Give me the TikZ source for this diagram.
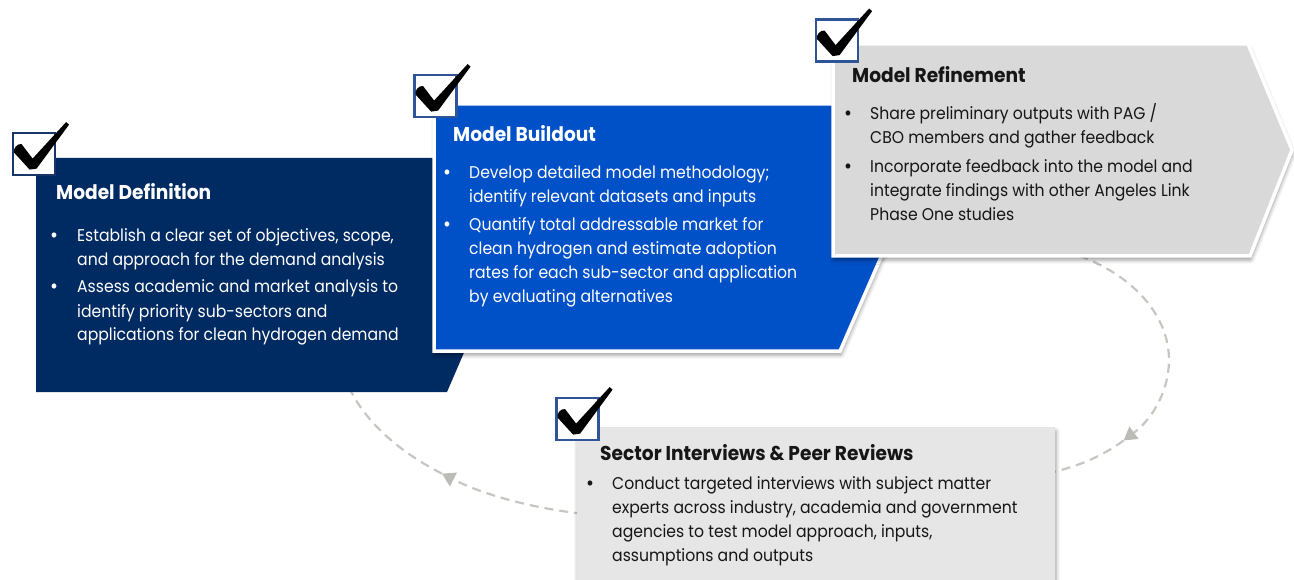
\documentclass[tikz,border=0pt]{standalone}
\usepackage{fontspec}
\setmainfont{Poppins}
\newfontfamily\bodyfont{Poppins}[FakeStretch=0.92]
\newfontfamily\headfont{Poppins}[FakeStretch=0.93]
\usetikzlibrary{arrows.meta,shadows.blur}

\definecolor{navybox}{HTML}{002A62}
\definecolor{bluebox}{HTML}{0050C8}
\definecolor{greybox}{HTML}{D9D9D9}
\definecolor{lightbox}{HTML}{E7E6E6}
\definecolor{navyframe}{HTML}{1A3668}
\definecolor{blueframe}{HTML}{2F5597}
\definecolor{cyclegrey}{HTML}{C6C6C2}
\definecolor{tipgrey}{HTML}{BCBCB7}
\definecolor{inkdark}{HTML}{161616}

\tikzset{
  cycleline/.style={draw=cyclegrey, line width=2.2pt, dash pattern=on 9pt off 6pt},
  cycletip/.style={-{Triangle[length=13pt,width=15pt,fill=tipgrey,color=tipgrey]}},
  chkbox/.style={draw=#1, line width=2.8pt, fill=white, rectangle, inner sep=0pt,
                 minimum width=42pt, minimum height=42pt},
  heading/.style={anchor=base west, inner sep=0pt, font=\headfont\bfseries\fontsize{20}{24}\selectfont},
  body/.style={anchor=base west, inner sep=0pt, font=\bodyfont\fontsize{17}{20}\selectfont},
  dot/.style={anchor=base, inner sep=0pt, font=\bodyfont\fontsize{21}{20}\selectfont},
  softshadow/.style={blur shadow={shadow xshift=1pt, shadow yshift=-4pt,
                     shadow blur radius=4pt, shadow opacity=40}},
}

% tick mark drawn from the top-left corner of a check box node
\newcommand\drawtick[1]{%
  \fill[black, shift={(#1.north west)}]
    (2.5,21) .. controls (1,17) and (6,11.5) .. (10,12.5) -- (21,27) -- (54.5,-9.5)
    -- (57.5,-7) -- (25,37) -- (18,38) -- cycle;}

\begin{document}
\begin{tikzpicture}[x=1pt, y=-1pt]
\useasboundingbox (0,0) rectangle (1294,580);
\clip (0,0) rectangle (1294,580);

% dashed cycle arcs behind the boxes
\coordinate (rc) at (1000,360);
\coordinate (lc) at (640,340);
\draw[cycleline, cycletip] (rc) ++(-62:169 and 118) coordinate (r0)
  arc[start angle=-62, end angle=43, x radius=169, y radius=118] coordinate (rtip);
\draw[cycleline] (rtip) arc[start angle=43, end angle=76, x radius=169, y radius=118] coordinate (r1);
\draw[cycleline, cycletip] (lc) ++(98:302 and 177) coordinate (l0)
  arc[start angle=98, end angle=131, x radius=302, y radius=177] coordinate (ltip);
\draw[cycleline] (ltip) arc[start angle=131, end angle=166, x radius=302, y radius=177] coordinate (l1);

% step 1: model definition
\path[fill=navybox] (36,158) -- (548,158) -- (447,392) -- (36,392) -- cycle;
% step 2: model buildout
\path[fill=bluebox, draw=white, line width=3.5pt, softshadow]
  (434,104) -- (948,104) -- (840,351) -- (434,351) -- cycle;
% step 3: model refinement
\path[fill=greybox, draw=white, line width=3.5pt, softshadow]
  (833,44) -- (1248,44) -- (1292,150) -- (1250,256) -- (833,256) -- cycle;
% step 4: interviews and reviews
\path[fill=lightbox, softshadow] (577,427) -- (1055,427) -- (1055,600) -- (577,600) -- cycle;

% check boxes
\node[chkbox=navyframe] (cb1) at (34,154) {};
\node[chkbox=blueframe] (cb2) at (435.5,96) {};
\node[chkbox=blueframe] (cb3) at (837,40.5) {};
\node[chkbox=blueframe] (cb4) at (577.5,419) {};
\drawtick{cb1}
\drawtick{cb2}
\drawtick{cb3}
\drawtick{cb4}

% texts of step 1
\node[heading, text=white] (t1) at (56,200) {Model Definition};
\node[dot, text=white] (d1a) at (54,243) {\textbullet};
\node[dot, text=white] (d1b) at (54,294) {\textbullet};
\foreach \txt [count=\i] in {{Establish a clear set of objectives, scope,},
                             {and approach for the demand analysis}}
  \node[body, text=white] (l1a\i) at (77,218+24*\i) {\txt};
\foreach \txt [count=\i] in {{Assess academic and market analysis to},
                             {identify priority sub-sectors and},
                             {applications for clean hydrogen demand}}
  \node[body, text=white] (l1b\i) at (77,269+24*\i) {\txt};

% texts of step 2
\node[heading, text=white] (t2) at (453,142) {Model Buildout};
\node[dot, text=white] (d2a) at (447,180) {\textbullet};
\node[dot, text=white] (d2b) at (447,232) {\textbullet};
\foreach \txt [count=\i] in {{Develop detailed model methodology;},
                             {identify relevant datasets and inputs}}
  \node[body, text=white] (l2a\i) at (469,155+24*\i) {\txt};
\foreach \txt [count=\i] in {{Quantify total addressable market for},
                             {clean hydrogen and estimate adoption},
                             {rates for each sub-sector and application},
                             {by evaluating alternatives}}
  \node[body, text=white] (l2b\i) at (469,207+24*\i) {\txt};

% texts of step 3
\node[heading, text=inkdark] (t3) at (852,83) {Model Refinement};
\node[dot, text=inkdark] (d3a) at (848,121) {\textbullet};
\node[dot, text=inkdark] (d3b) at (848,174) {\textbullet};
\foreach \txt [count=\i] in {{Share preliminary outputs with PAG /},
                             {CBO members and gather feedback}}
  \node[body, text=inkdark] (l3a\i) at (870,96+24*\i) {\txt};
\foreach \txt [count=\i] in {{Incorporate feedback into the model and},
                             {integrate findings with other Angeles Link},
                             {Phase One studies}}
  \node[body, text=inkdark] (l3b\i) at (870,149+24*\i) {\txt};

% texts of step 4
\node[heading, text=inkdark] (t4) at (600,460) {Sector Interviews \& Peer Reviews};
\node[dot, text=inkdark] (d4a) at (590,490) {\textbullet};
\foreach \txt [count=\i] in {{Conduct targeted interviews with subject matter},
                             {experts across industry, academia and government},
                             {agencies to test model approach, inputs,},
                             {assumptions and outputs}}
  \node[body, text=inkdark] (l4a\i) at (612,465+24*\i) {\txt};
\end{tikzpicture}
\end{document}
